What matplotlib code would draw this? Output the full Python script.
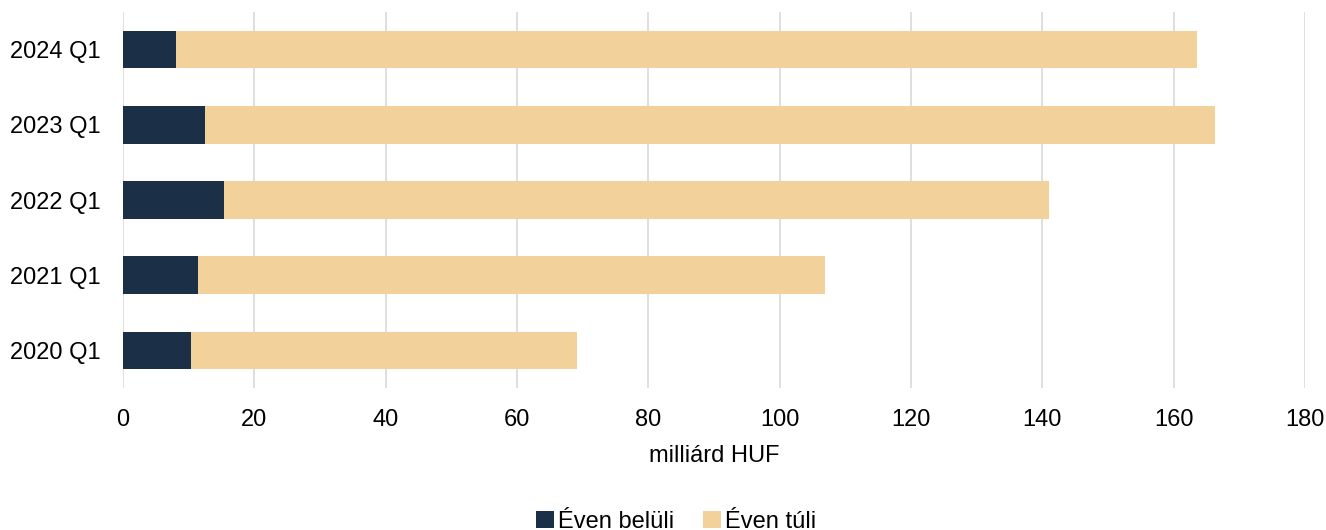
import numpy as np
import matplotlib.pyplot as plt

plt.rcParams['font.family'] = ['Liberation Sans', 'DejaVu Sans']

# data (milliárd HUF)
categories = ['2020 Q1', '2021 Q1', '2022 Q1', '2023 Q1', '2024 Q1']
within_year = [10.4, 11.4, 15.4, 12.5, 8.1]
beyond_year_total = [69.1, 106.9, 141.0, 166.3, 163.5]
beyond_year = [t - w for t, w in zip(beyond_year_total, within_year)]
series_names = ['Éven belüli', 'Éven túli']
x_ticks = [0, 20, 40, 60, 80, 100, 120, 140, 160, 180]

dark = '#1b3047'
beige = '#f2d19a'

fig = plt.figure(figsize=(13.26, 5.3), dpi=100)
ax = fig.add_axes([123/1326, 142/530, (1305-123)/1326, (388-12)/530])

y = np.arange(len(categories))
ax.barh(y, within_year, height=0.5, color=dark, label=series_names[0], zorder=3)
ax.barh(y, beyond_year, left=within_year, height=0.5, color=beige,
        label=series_names[1], zorder=3)

ax.set_yticks(y)
ax.set_yticklabels(categories)
ax.set_ylim(-0.5, len(categories) - 0.5)
ax.set_xlim(0, 180)
ax.set_xticks(x_ticks)
ax.xaxis.grid(True, color='#d9d9d9', linewidth=1.2, zorder=0)
ax.tick_params(axis='x', length=0, pad=15, labelsize=17)
ax.tick_params(axis='y', length=0, pad=16, labelsize=17)
for s in ax.spines.values():
    s.set_visible(False)

ax.set_xlabel('milliárd HUF', fontsize=17, labelpad=10)

fig.legend(loc='lower center', bbox_to_anchor=(0.51, -0.045), ncol=2,
           frameon=False, fontsize=17, handlelength=0.75, handleheight=0.75,
           handletextpad=0.2, columnspacing=1.2)

fig.savefig('out.png', dpi=100)
